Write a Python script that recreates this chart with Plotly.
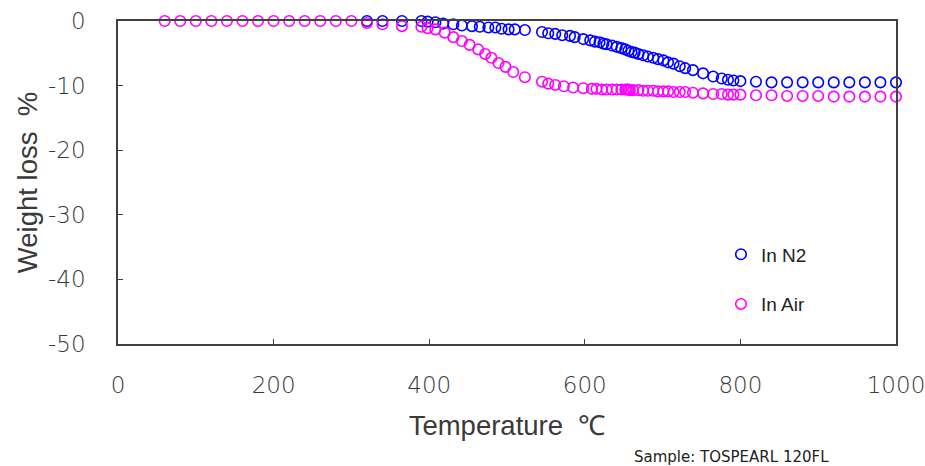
import plotly.graph_objects as go

# In N2 (blue)
n2_temp = [320, 340, 365, 390, 398, 408, 418, 431, 442, 455, 465, 476, 485, 493,
           502, 510, 523, 545, 553, 562, 571, 581, 587, 598, 607, 613, 619, 624,
           628, 635, 641, 647, 652, 656, 660, 664, 669, 675, 681, 688, 694, 701,
           707, 714, 722, 729, 739, 752, 765, 776, 784, 791, 800, 820, 840, 860,
           880, 900, 920, 940, 960, 980, 1000]
n2_loss = [0.0, 0.0, 0.0, 0.0, -0.1, -0.2, -0.4, -0.5, -0.7, -0.8, -0.9, -1.0, -1.0, -1.2,
           -1.3, -1.3, -1.4, -1.7, -1.9, -2.0, -2.2, -2.3, -2.5, -2.8, -3.0, -3.2, -3.3, -3.5,
           -3.6, -3.8, -4.0, -4.2, -4.4, -4.6, -4.8, -4.9, -5.1, -5.3, -5.5, -5.7, -5.9, -6.1,
           -6.4, -6.6, -7.0, -7.3, -7.6, -8.1, -8.6, -8.9, -9.1, -9.2, -9.3, -9.4, -9.5, -9.5,
           -9.5, -9.5, -9.5, -9.5, -9.5, -9.5, -9.5]

# In Air (magenta)
air_temp = [60, 80, 100, 120, 140, 160, 180, 200, 220, 240, 260, 280, 300,
            320, 340, 365, 390, 398, 408, 420, 431, 442, 452, 463, 472, 480, 489,
            498, 508, 523, 545, 553, 562, 573, 585, 598, 609, 615, 622, 628, 635,
            641, 647, 652, 654, 656, 658, 662, 669, 675, 681, 688, 694, 701, 707,
            714, 722, 729, 739, 752, 765, 776, 784, 791, 800, 820, 840, 860, 880,
            900, 920, 940, 960, 980, 1000]
air_loss = [0, 0, 0, 0, 0, 0, 0, 0, 0, 0, 0, 0, 0,
            -0.3, -0.5, -0.8, -0.9, -1.1, -1.3, -1.8, -2.5, -3.1, -3.7, -4.4, -5.1, -5.7, -6.5,
            -7.1, -7.9, -8.7, -9.4, -9.7, -9.9, -10.1, -10.3, -10.4, -10.5, -10.5, -10.6, -10.6, -10.6,
            -10.6, -10.6, -10.6, -10.6, -10.6, -10.7, -10.7, -10.7, -10.8, -10.8, -10.8, -10.9, -10.9, -10.9,
            -11.0, -11.0, -11.0, -11.1, -11.2, -11.3, -11.3, -11.4, -11.4, -11.4, -11.5, -11.5, -11.6, -11.6,
            -11.6, -11.7, -11.7, -11.7, -11.7, -11.7]

x_ticks = [0, 200, 400, 600, 800, 1000]
x_labels = ["0", "200", "400", "600", "800", "1000"]
y_ticks = [0, -10, -20, -30, -40, -50]
y_labels = ["0", "-10", "-20", "-30", "-40", "-50"]

FONT = "Liberation Sans, Arial, sans-serif"
TICK_FONT = "DejaVu Sans, Liberation Sans, sans-serif"
AXIS_COLOR = "#404040"
TEXT_COLOR = "#3a3a3a"

fig = go.Figure()
fig.add_trace(go.Scatter(
    x=n2_temp, y=n2_loss, mode="markers", name="In N2", legendgroup="n2",
    marker=dict(symbol="circle-open", size=10.5, color="#0000FF", line=dict(width=1.6)),
    cliponaxis=False,
))
fig.add_trace(go.Scatter(
    x=air_temp, y=air_loss, mode="markers", name="In Air", legendgroup="air",
    marker=dict(symbol="circle-open", size=10.5, color="#FF00FF", line=dict(width=1.6)),
    cliponaxis=False,
))

axis_common = dict(
    showgrid=False, zeroline=False, showline=True, linecolor=AXIS_COLOR, linewidth=1.5,
    mirror=True, ticks="inside", ticklen=5, tickcolor=AXIS_COLOR, tickwidth=1,
    tickfont=dict(family=TICK_FONT, size=23, color=TEXT_COLOR, weight=200),
    automargin=False, ticklabeloverflow="allow",
)

fig.update_xaxes(
    range=[0, 1000], tickvals=x_ticks, ticktext=x_labels, ticklabelstandoff=20,
    title=dict(text="Temperature  ℃", font=dict(family=FONT, size=27.5, color=TEXT_COLOR), standoff=18),
    **axis_common,
)
fig.update_yaxes(
    range=[-50, 0], tickvals=y_ticks, ticktext=y_labels, ticklabelstandoff=26,
    title=dict(text="Weight loss  %", font=dict(family=FONT, size=27.5, color=TEXT_COLOR), standoff=2),
    **axis_common,
)

fig.add_annotation(
    text="Sample: TOSPEARL 120FL", xref="paper", yref="paper", x=0.661, y=-0.35,
    xanchor="left", yanchor="middle", showarrow=False,
    font=dict(family="DejaVu Sans, sans-serif", size=15, color="#222222"),
)

fig.update_layout(
    width=925, height=466,
    margin=dict(l=118, r=29, t=21, b=122),
    paper_bgcolor="white", plot_bgcolor="white",
    showlegend=True,
    legend=dict(
        x=0.775, y=0.20, xanchor="left", yanchor="middle",
        bgcolor="rgba(0,0,0,0)", tracegroupgap=22,
        font=dict(family=FONT, size=19, color="#222222"),
        itemwidth=30,
    ),
)

# drop the page's default 8px body margin so the figure fills the window
fig.write_html(
    "out.html",
    config={"displayModeBar": False},
    post_script="document.body.style.margin = '0';",
)
